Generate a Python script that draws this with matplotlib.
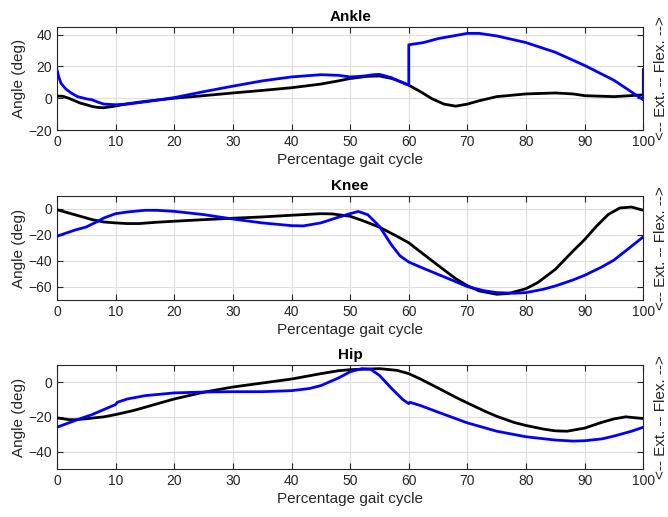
import matplotlib
matplotlib.use("Agg")
import matplotlib.pyplot as plt

plt.rcParams['font.family'] = ['Liberation Sans', 'DejaVu Sans']

# Ankle
ankle_ref_x = [0, 1, 2, 3, 4, 5, 6, 7, 8, 10, 12, 15, 20, 25, 30, 35, 40, 45, 48, 50, 53, 55, 57, 58, 60, 62, 64, 66, 68, 70, 72, 75, 80, 85, 88, 90, 95, 100]
ankle_ref_y = [1.4, 1.2, 0, -1.6, -3.1, -4.1, -5.2, -5.8, -6, -4.9, -3.5, -2, 0, 1.6, 3.3, 4.9, 6.6, 8.9, 10.9, 12.4, 13.8, 14, 12.5, 11.3, 8.2, 4.1, -0.4, -3.7, -5, -3.7, -1.6, 1, 2.7, 3.3, 2.7, 1.6, 1, 2.1]
ankle_exp_x = [0, 0.3, 0.7, 1.5, 2.5, 3.5, 5, 6, 7, 8, 10, 12, 15, 20, 25, 30, 35, 40, 45, 48, 50, 52, 54, 55, 57, 58, 60, 60, 62.5, 65, 70, 72, 75, 80, 85, 90, 95, 100, 100]
ankle_exp_y = [17.9, 13.4, 9.3, 5.8, 3.1, 1, -0.4, -1, -2.5, -3.7, -4.1, -3.7, -2.3, 0.4, 4.1, 7.6, 10.9, 13.4, 14.8, 14.4, 13.4, 13.8, 14.8, 15, 13, 11.3, 8.2, 33.6, 35, 37.5, 40.8, 40.8, 39.2, 35, 28.9, 20.6, 11.3, -1, 18]

# Knee
knee_ref_x = [0, 2, 4, 6, 8, 10, 12, 14, 17, 20, 25, 30, 35, 40, 45, 47, 50, 52, 55, 58, 60, 62, 65, 68, 70, 72, 75, 77, 80, 82, 85, 88, 90, 92, 94, 96, 98, 100]
knee_ref_y = [-0.5, -3.1, -5.6, -8.2, -10, -10.7, -11.2, -11.2, -10.2, -9.4, -8.2, -7.1, -6.1, -4.8, -3.6, -3.8, -5.6, -8.7, -14, -21, -26, -33, -43.4, -53.6, -59, -63, -65.6, -65, -61.3, -56.6, -46.4, -32.4, -23.5, -13.3, -4.3, 0.8, 1.5, -1]
knee_exp_x = [0, 3, 5, 7, 8, 10, 12, 15, 17, 20, 25, 30, 35, 40, 42, 45, 48, 50, 51.4, 53, 55, 57, 58.5, 60, 62, 65, 68, 70, 73, 75, 78, 80, 83, 85, 88, 90, 93, 95, 98, 100]
knee_exp_y = [-20.9, -16.3, -13.8, -9.4, -6.9, -3.6, -2.3, -1, -1, -1.8, -4.3, -7.7, -10.7, -12.8, -13, -10.7, -6.3, -3.6, -1.9, -4.4, -13.3, -27.3, -36, -40.8, -44.7, -50.3, -55.9, -59.7, -63, -64.3, -64.8, -64.3, -61.7, -59.2, -54.6, -51, -44.4, -39.3, -28.6, -21.4]

# Hip
hip_ref_x = [0, 2, 3, 5, 8, 10, 13, 15, 18, 20, 25, 30, 35, 40, 45, 48, 50, 55, 58, 60, 62, 65, 68, 70, 73, 75, 78, 80, 83, 85, 87, 90, 93, 95, 97, 100]
hip_ref_y = [-20.5, -21.5, -21.6, -21, -19.9, -18.6, -16.3, -14.4, -11.5, -9.6, -5.7, -2.7, -0.4, 1.9, 5, 6.7, 7.3, 7.9, 6.9, 5, 1.9, -3.3, -8.6, -11.9, -16.7, -19.6, -23.2, -24.9, -27, -28, -28.2, -26.4, -23, -21.1, -19.9, -20.9]
hip_exp_x = [0, 2, 4, 6, 8, 10, 10.3, 12, 15, 20, 25, 30, 35, 40, 43, 45, 48, 50, 52, 53.5, 55, 57, 59, 60, 60.2, 62, 65, 70, 75, 80, 85, 88, 90, 93, 95, 98, 100]
hip_exp_y = [-25.9, -23.4, -20.9, -18.6, -15.7, -12.8, -11.5, -9.6, -7.7, -6.1, -5.6, -5.4, -5.4, -4.8, -3.6, -1.9, 2.5, 6.1, 7.9, 7.5, 4, -3.3, -10, -12.3, -11.5, -13.4, -17.2, -23.4, -28.2, -31.4, -33.3, -33.9, -33.7, -32.6, -31, -28.2, -25.9]

titles = ["Ankle", "Knee", "Hip"]
ylims = [(-20, 45), (-70, 10), (-50, 10)]
yticks = [[-20, 0, 20, 40], [-60, -40, -20, 0], [-40, -20, 0]]
xticks = list(range(0, 101, 10))

data = [(ankle_ref_x, ankle_ref_y, ankle_exp_x, ankle_exp_y),
        (knee_ref_x, knee_ref_y, knee_exp_x, knee_exp_y),
        (hip_ref_x, hip_ref_y, hip_exp_x, hip_exp_y)]

fig = plt.figure(figsize=(6.68, 5.17), dpi=100)
W, H = 668, 517
tops = [26.7, 196, 365]
bottoms = [130, 300, 469]
left, right = 57, 643.3

for i in range(3):
    ax = fig.add_axes([left / W, 1 - bottoms[i] / H, (right - left) / W, (bottoms[i] - tops[i]) / H])
    rx, ry, ex, ey = data[i]
    ax.plot(rx, ry, color='black', lw=2, zorder=3, solid_joinstyle='round')
    ax.plot(ex, ey, color=(0, 0, 1), lw=2, zorder=4, solid_joinstyle='round')
    ax.set_xlim(0, 100)
    ax.set_ylim(*ylims[i])
    ax.set_xticks(xticks)
    ax.set_yticks(yticks[i])
    ax.grid(True, color='#dedede', lw=0.8)
    ax.set_axisbelow(True)
    ax.tick_params(direction='in', top=True, right=True, labelsize=10, length=4, colors='#262626')
    for s in ax.spines.values():
        s.set_color('#262626')
        s.set_linewidth(0.8)
    ax.set_title(titles[i], fontsize=11, fontweight='bold', pad=4)
    ax.set_xlabel("Percentage gait cycle", fontsize=11, color='#262626', labelpad=3)
    ax.set_ylabel("Angle (deg)", fontsize=11, color='#262626', labelpad=2)
    ax.text(1.03, 0.5, "<-- Ext. -- Flex. -->", rotation=90, transform=ax.transAxes,
            va='center', ha='center', fontsize=11, color='#262626')

fig.savefig("out.png", dpi=100)
